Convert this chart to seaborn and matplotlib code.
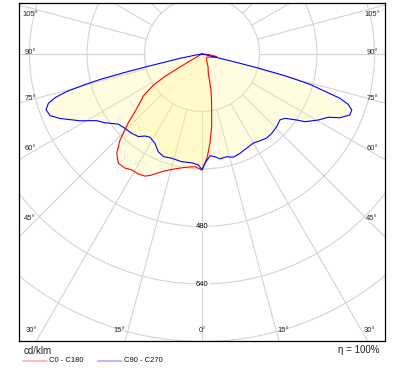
import numpy as np
import pandas as pd
import matplotlib
matplotlib.use("Agg")
import matplotlib.pyplot as plt
import seaborn as sns
from matplotlib.patches import Circle
from matplotlib.lines import Line2D

# ---------------- data (cd/klm vs. gamma angle in degrees) ----------------
gamma_c0 = [0, 0.7, 3, 5.1, 7.6, 9.8, 12, 14, 18, 25, 32, 45, 55, 65, 75, 80, 85, 90]
c0_values = [323, 314, 286, 249, 204, 158, 127, 103, 57, 40, 26, 18, 16, 20, 35, 42, 20, 0]

gamma_c180 = [0, 3.6, 8.5, 14.7, 18.9, 22.6, 25, 28, 31.2, 34, 37.4, 40.7, 43.6, 45, 47,
              49, 51, 54.5, 57.5, 59, 59.5, 60, 65, 90]
c180_values = [323, 314, 319, 332, 346, 365, 375, 378, 377, 383, 383, 364, 331, 308, 280,
               250, 228, 200, 160, 114, 70, 30, 5, 0]

gamma_c90 = [0, 1.6, 4.5, 7.2, 9.7, 13.5, 16.9, 20.9, 25.4, 29.9, 33.5, 37.5, 41.3, 45.8,
             49.8, 52.2, 55.1, 56.7, 60.4, 63.4, 65.2, 67.6, 69.5, 71, 72.2, 74.3, 75.3,
             76, 76.3, 76.5, 80, 90]
c90_values = [322, 304, 284, 288, 296, 294, 300, 296, 290, 286, 290, 295, 294, 290,
              284, 292, 321, 343, 372, 393, 423, 445, 445, 430, 403, 312, 240,
              161, 100, 42, 5, 0]

gamma_c270 = [0, 1.9, 5.4, 10.7, 16.2, 20.6, 24.1, 27.8, 32, 34.8, 37.6, 41.6, 46, 50.1,
              54.7, 57.7, 61.3, 65.6, 67.9, 70.3, 72.2, 73.5, 74.5, 75.3, 76, 76.6, 77.1,
              78.9, 81, 85, 90]
c270_values = [322, 309, 304, 305, 302, 305, 298, 281, 273, 278, 290, 295, 298, 304,
               331, 347, 387, 434, 456, 461, 449, 425, 390, 340, 290, 220, 158,
               62, 15, 0, 0]

series_names = ["C0 - C180", "C90 - C270"]
series_colors = ["#ff0000", "#0000ff"]
legend_colors = ["#ffb4b4", "#b4b4ff"]
ring_values = [160, 320, 480, 640, 800]
ring_labels = [480, 640]
spoke_step = 15
side_labels = ["105°", "90°", "75°", "60°", "45°"]
bottom_labels = ["30°", "15°", "0°", "15°", "30°"]
unit_label = "cd/klm"
eta_label = "η = 100%"

# ---------------- style ----------------
sns.set_theme(style="white")
plt.rcParams['font.family'] = ['Liberation Sans', 'DejaVu Sans']

W, H = 404, 372
fig = plt.figure(figsize=(W / 100, H / 100), dpi=100)
fig.patch.set_facecolor("white")

def fx(p):
    return p / W

def fy(p):
    return 1 - p / H

# axes frame in pixels: left 19, right 385, top 3, bottom 341 ; centre at (202, 54)
ax = fig.add_axes([fx(19), fy(341), (385 - 19) / W, (341 - 3) / H])
upp = 160 / 57.5  # units per pixel
ax.set_xlim((19 - 202) * upp, (385 - 202) * upp)
ax.set_ylim(-(341 - 54) * upp, (54 - 3) * upp)
ax.set_xticks([])
ax.set_yticks([])
ax.set_facecolor("white")
for s in ax.spines.values():
    s.set_color("#000000")
    s.set_linewidth(0.9)

grid_color = "#d4d4d4"
# rings
for rv in ring_values:
    ax.add_patch(Circle((0, 0), rv, fill=False, ec=grid_color, lw=0.8, zorder=1))
# spokes (from the first ring outwards)
for a in range(0, 360, spoke_step):
    t = np.deg2rad(a)
    r0, r1 = ring_values[0], 2000
    ax.plot([r0 * np.sin(t), r1 * np.sin(t)], [-r0 * np.cos(t), -r1 * np.cos(t)],
            color=grid_color, lw=0.8, zorder=1)

# ---------------- curves ----------------
def to_xy(gam, val, side):
    g = np.deg2rad(np.asarray(gam, float))
    v = np.asarray(val, float)
    return side * v * np.sin(g), -v * np.cos(g)

frames = []
for name, (gr, vr, gl, vl) in zip(series_names,
                                  [(gamma_c0, c0_values, gamma_c180, c180_values),
                                   (gamma_c90, c90_values, gamma_c270, c270_values)]):
    xr, yr = to_xy(gr, vr, 1)
    xl, yl = to_xy(gl, vl, -1)
    x = np.concatenate([xr[::-1], xl])
    y = np.concatenate([yr[::-1], yl])
    frames.append(pd.DataFrame({"x": x, "y": y, "series": name,
                                "order": np.arange(len(x))}))
df = pd.concat(frames, ignore_index=True)

for name in series_names:
    d = df[df.series == name]
    ax.fill(d.x, d.y, color=(1.0, 0.96, 0.55), alpha=0.28, lw=0, zorder=2)

sns.lineplot(data=df, x="x", y="y", hue="series", hue_order=series_names,
             palette=dict(zip(series_names, series_colors)), sort=False,
             estimator=None, legend=False, lw=0.8, ax=ax, zorder=3)
ax.set_xlabel("")
ax.set_ylabel("")

# ring value labels along the 0° spoke
for rv in ring_labels:
    ax.text(0, -rv, str(rv), ha="center", va="center", fontsize=5.5, color="#000000",
            zorder=4, bbox=dict(fc="white", ec="none", pad=0.4))

# angle labels
side_y = [14, 53, 98, 148, 219]
for lab, py in zip(side_labels, side_y):
    fig.text(fx(30), fy(py), lab, ha="center", va="center", fontsize=5.5)
    fig.text(fx(372), fy(py), lab, ha="center", va="center", fontsize=5.5)
bottom_x = [31, 119, 202, 283, 369]
for lab, px in zip(bottom_labels, bottom_x):
    fig.text(fx(px), fy(331), lab, ha="center", va="center", fontsize=5.5)

# footer
fig.text(fx(24), fy(351), unit_label, ha="left", va="center", fontsize=7, color="#222222")
fig.text(fx(379), fy(350), eta_label, ha="right", va="center", fontsize=7, color="#222222")

leg_x = [(23, 47, 49), (98, 122, 124)]
for (a, b, t), name, col in zip(leg_x, series_names, legend_colors):
    fig.add_artist(Line2D([fx(a), fx(b)], [fy(361), fy(361)], color=col, lw=1.3,
                          transform=fig.transFigure))
    fig.text(fx(t), fy(361), name, ha="left", va="center", fontsize=5.5, color="#111111")

fig.savefig("out.png", dpi=100)
